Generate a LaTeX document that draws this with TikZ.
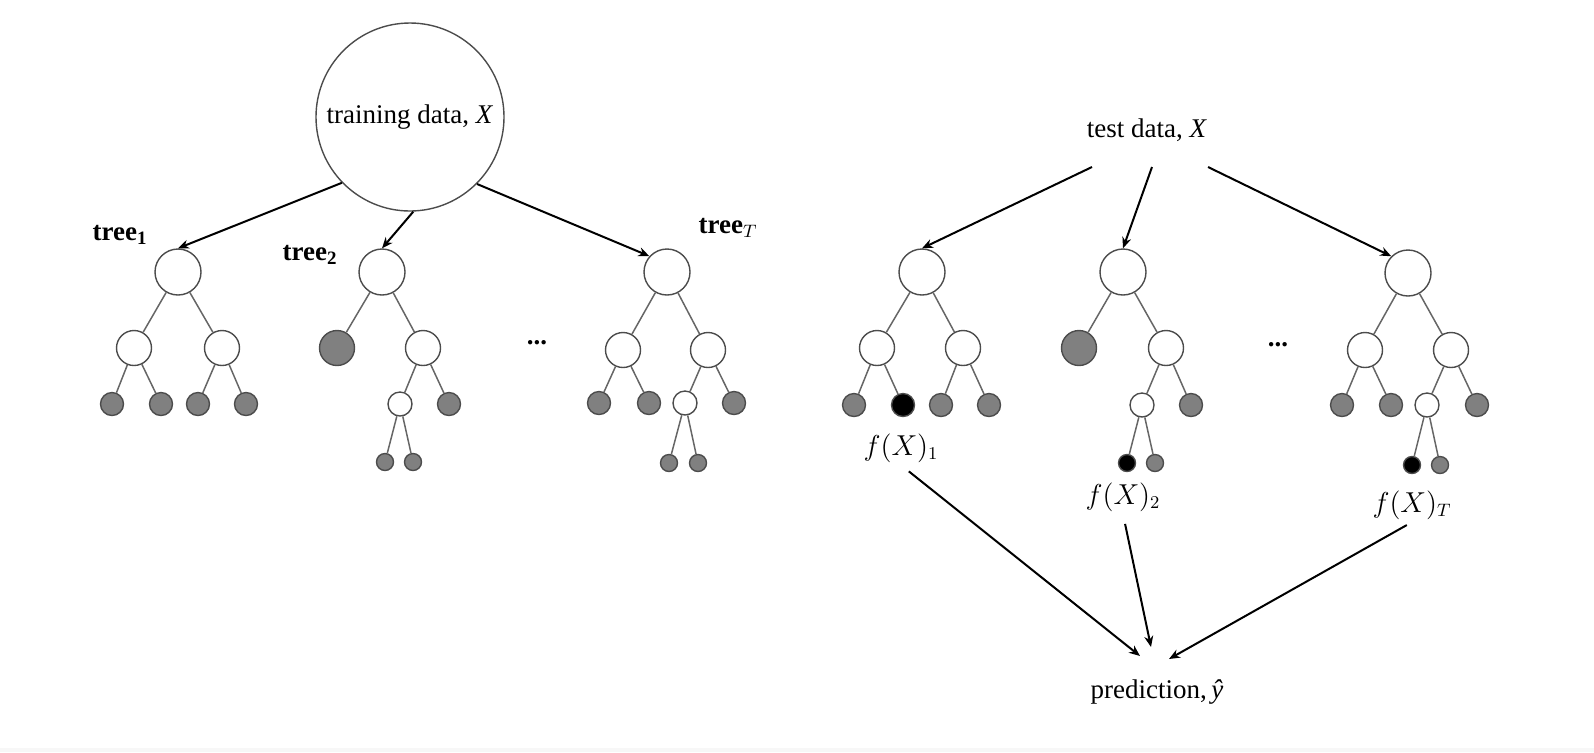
\documentclass[tikz,border=0pt]{standalone}
\usepackage{fontspec}
\setmainfont{Liberation Serif}
\usetikzlibrary{arrows.meta}

\begin{document}
\begin{tikzpicture}[x=0.5pt, y=-0.5pt,
    every node/.style={circle, draw=black!70, line width=0.7pt, fill=white, inner sep=0pt,
      font=\fontsize{13.5}{16}\selectfont},
    root/.style={minimum size=23pt},
    mid/.style={minimum size=17.5pt},
    bigleaf/.style={minimum size=17.5pt, fill=black!50},
    twig/.style={minimum size=12pt},
    leaf/.style={minimum size=11.5pt, fill=black!50},
    tiny/.style={minimum size=8.5pt, fill=black!50},
    hit/.style={fill=black},
    txt/.style={draw=none, fill=none, rectangle, inner sep=1pt},
    branch/.style={draw=black!60, line width=0.75pt},
    arr/.style={-{Stealth[length=5.5pt, width=4.5pt]}, line width=1pt}]
    \useasboundingbox (0,0) rectangle (1594,752);
    \fill[black!3] (0,748) rectangle (1594,752);

    % training side
    \node (train) at (410,117) [minimum size=94pt] {training data, \textit{X}};

    \node (l1r) at (178,272) [root] {};
    \node[txt] (l1lab) at (120,235) {\textbf{tree}$_{\mathbf{1}}$};
    \node (l1a) at (134,348) [mid] {};
    \node (l1b) at (222,348) [mid] {};
    \node (l1aa) at (112,404) [leaf] {};
    \node (l1ab) at (161,404) [leaf] {};
    \node (l1ba) at (198,404) [leaf] {};
    \node (l1bb) at (246,404) [leaf] {};
    \draw[branch] (l1r) -- (l1a);
    \draw[branch] (l1r) -- (l1b);
    \draw[branch] (l1a) -- (l1aa);
    \draw[branch] (l1a) -- (l1ab);
    \draw[branch] (l1b) -- (l1ba);
    \draw[branch] (l1b) -- (l1bb);

    \node (l2r) at (382,272) [root] {};
    \node[txt] (l2lab) at (310,255) {\textbf{tree}$_{\mathbf{2}}$};
    \node (l2a) at (337,348) [bigleaf] {};
    \node (l2b) at (423,348) [mid] {};
    \node (l2ba) at (400,404) [twig] {};
    \node (l2bb) at (449,404) [leaf] {};
    \node (l2baa) at (385,462) [tiny] {};
    \node (l2bab) at (413,462) [tiny] {};
    \draw[branch] (l2r) -- (l2a);
    \draw[branch] (l2r) -- (l2b);
    \draw[branch] (l2b) -- (l2ba);
    \draw[branch] (l2b) -- (l2bb);
    \draw[branch] (l2ba) -- (l2baa);
    \draw[branch] (l2ba) -- (l2bab);

    \node[txt] (ldots) at (537,343) {\textbf{...}};

    \node (lTr) at (667,272) [root] {};
    \node[txt] (lTlab) at (728,228) {\textbf{tree}$_{T}$};
    \node (lTa) at (623,350) [mid] {};
    \node (lTb) at (708,350) [mid] {};
    \node (lTaa) at (599,403) [leaf] {};
    \node (lTab) at (649,403) [leaf] {};
    \node (lTba) at (685,403) [twig] {};
    \node (lTbb) at (734,403) [leaf] {};
    \node (lTbaa) at (669,463) [tiny] {};
    \node (lTbab) at (698,463) [tiny] {};
    \draw[branch] (lTr) -- (lTa);
    \draw[branch] (lTr) -- (lTb);
    \draw[branch] (lTa) -- (lTaa);
    \draw[branch] (lTa) -- (lTab);
    \draw[branch] (lTb) -- (lTba);
    \draw[branch] (lTb) -- (lTbb);
    \draw[branch] (lTba) -- (lTbaa);
    \draw[branch] (lTba) -- (lTbab);

    \draw[arr] (train.224) -- (l1r.north);
    \draw[arr] (train.272) -- (l2r.north);
    \draw[arr] (train.315) -- (lTr.138);

    % test side
    \node[txt] (test) at (1147,130) {test data, \textit{X}};
    \coordinate (t1) at (1092,167);
    \coordinate (t2) at (1152,167);
    \coordinate (t3) at (1208,167);

    \node (r1r) at (922,272) [root] {};
    \node (r1a) at (877,348) [mid] {};
    \node (r1b) at (963,348) [mid] {};
    \node (r1aa) at (854,405) [leaf] {};
    \node (r1ab) at (903,405) [leaf, hit] {};
    \node (r1ba) at (941,405) [leaf] {};
    \node (r1bb) at (989,405) [leaf] {};
    \node[txt] (f1) at (901,448) {$f(X)_1$};
    \draw[branch] (r1r) -- (r1a);
    \draw[branch] (r1r) -- (r1b);
    \draw[branch] (r1a) -- (r1aa);
    \draw[branch] (r1a) -- (r1ab);
    \draw[branch] (r1b) -- (r1ba);
    \draw[branch] (r1b) -- (r1bb);

    \node (r2r) at (1123,272) [root] {};
    \node (r2a) at (1079,348) [bigleaf] {};
    \node (r2b) at (1166,348) [mid] {};
    \node (r2ba) at (1142,405) [twig] {};
    \node (r2bb) at (1191,405) [leaf] {};
    \node (r2baa) at (1127,463) [tiny, hit] {};
    \node (r2bab) at (1155,463) [tiny] {};
    \node[txt] (f2) at (1123,497) {$f(X)_2$};
    \draw[branch] (r2r) -- (r2a);
    \draw[branch] (r2r) -- (r2b);
    \draw[branch] (r2b) -- (r2ba);
    \draw[branch] (r2b) -- (r2bb);
    \draw[branch] (r2ba) -- (r2baa);
    \draw[branch] (r2ba) -- (r2bab);

    \node[txt] (rdots) at (1278,345) {\textbf{...}};

    \node (rTr) at (1408,273) [root] {};
    \node (rTa) at (1365,350) [mid] {};
    \node (rTb) at (1451,350) [mid] {};
    \node (rTaa) at (1342,405) [leaf] {};
    \node (rTab) at (1391,405) [leaf] {};
    \node (rTba) at (1427,405) [twig] {};
    \node (rTbb) at (1477,405) [leaf] {};
    \node (rTbaa) at (1412,465) [tiny, hit] {};
    \node (rTbab) at (1440,465) [tiny] {};
    \node[txt] (fT) at (1412,505) {$f(X)_T$};
    \draw[branch] (rTr) -- (rTa);
    \draw[branch] (rTr) -- (rTb);
    \draw[branch] (rTa) -- (rTaa);
    \draw[branch] (rTa) -- (rTab);
    \draw[branch] (rTb) -- (rTba);
    \draw[branch] (rTb) -- (rTbb);
    \draw[branch] (rTba) -- (rTbaa);
    \draw[branch] (rTba) -- (rTbab);

    \draw[arr] (t1) -- (r1r.north);
    \draw[arr] (t2) -- (r2r.north);
    \draw[arr] (t3) -- (rTr.135);

    \node[txt] (pred) at (1157,692) {prediction,\,\textit{ŷ}};
    \coordinate (p1) at (1140,656);
    \coordinate (p2) at (1151,647);
    \coordinate (p3) at (1169,659);
    \draw[arr, shorten <=5pt] (f1.south) -- (p1);
    \draw[arr, shorten <=5pt] (f2.south) -- (p2);
    \draw[arr, shorten <=3pt] (fT.south) -- (p3);
  \end{tikzpicture}
\end{document}
